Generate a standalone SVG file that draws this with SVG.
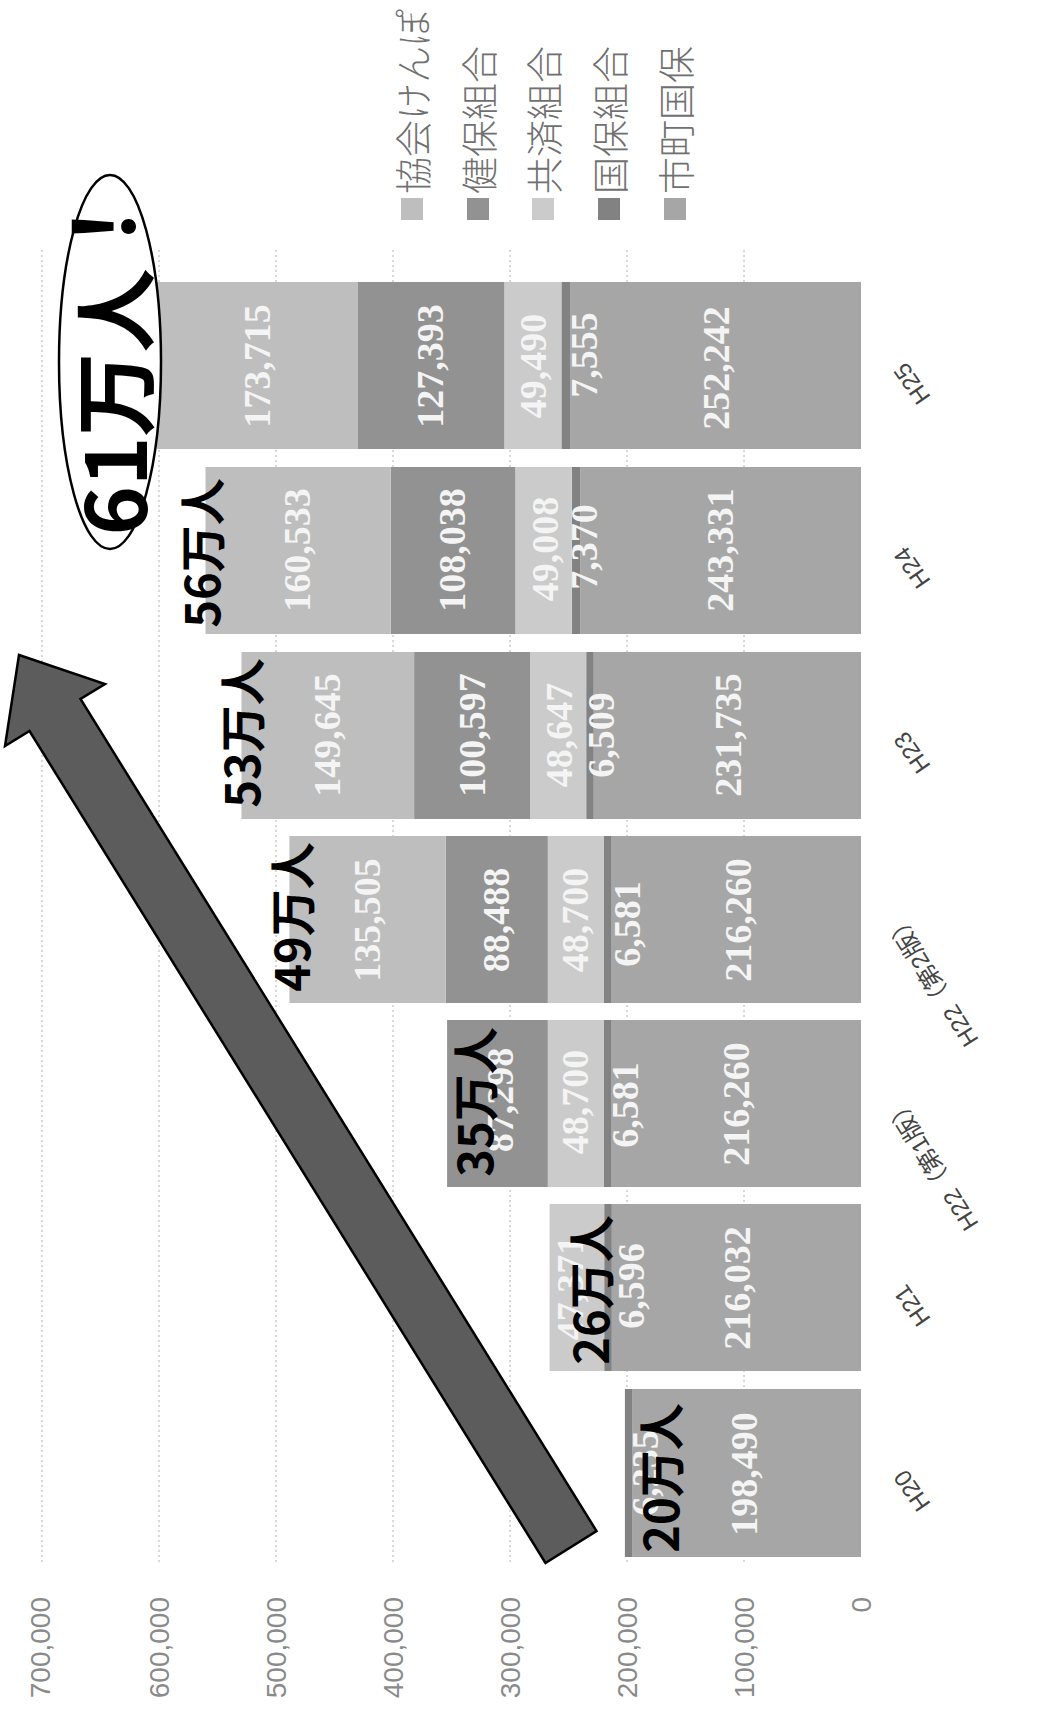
<svg xmlns="http://www.w3.org/2000/svg" width="1054" height="1725" viewBox="0 0 1054 1725">
<style>
.k{fill:#bebebe}.kn{fill:#929292}.ky{fill:#cbcbcb}.kk{fill:#828282}.sc{fill:#a6a6a6}
.dl{font-family:"Liberation Serif",serif;font-size:38px;font-weight:bold;fill:#f4f4f4;text-anchor:middle;dominant-baseline:central}
.tot{font-family:"Noto Sans CJK JP",sans-serif;font-size:47px;font-weight:bold;fill:#000;text-anchor:middle;dominant-baseline:central}
.ax{font-family:"Liberation Sans",sans-serif;font-size:28px;fill:#8a8a8a;text-anchor:end;dominant-baseline:central}
.cat{font-family:"Liberation Sans","Noto Sans CJK JP",sans-serif;font-size:24px;fill:#444;text-anchor:end}
.lg{font-family:"Noto Sans CJK JP",sans-serif;font-size:37px;font-weight:300;fill:#707070;text-anchor:start;dominant-baseline:central}
.grid{stroke:#b0b0b0;stroke-width:1;stroke-dasharray:2 3}
</style>
<rect width="1054" height="1725" fill="#fff"/>
<g id="gridlines">
<line class="grid" x1="42" y1="250" x2="42" y2="1565"/>
<line class="grid" x1="159" y1="250" x2="159" y2="1565"/>
<line class="grid" x1="276" y1="250" x2="276" y2="1565"/>
<line class="grid" x1="393" y1="250" x2="393" y2="1565"/>
<line class="grid" x1="510" y1="250" x2="510" y2="1565"/>
<line class="grid" x1="627" y1="250" x2="627" y2="1565"/>
<line class="grid" x1="744" y1="250" x2="744" y2="1565"/>
</g>
<g id="bar-H25">
<rect class="sc" x="570.1" y="282" width="290.9" height="167"/>
<rect class="kk" x="561.4" y="282" width="8.7" height="167"/>
<rect class="ky" x="504.3" y="282" width="57.1" height="167"/>
<rect class="kn" x="357.4" y="282" width="146.9" height="167"/>
<rect class="k" x="157" y="282" width="200.4" height="167"/>
<text class="dl" transform="translate(257,366) rotate(-90)">173,715</text>
<text class="dl" transform="translate(430,366) rotate(-90)">127,393</text>
<text class="dl" transform="translate(533,366) rotate(-90)">49,490</text>
<text class="dl" transform="translate(584,355) rotate(-90)">7,555</text>
<text class="dl" transform="translate(716,368) rotate(-90)">252,242</text>
</g>
<g id="bar-H24">
<rect class="sc" x="580.3" y="467" width="280.7" height="167"/>
<rect class="kk" x="571.8" y="467" width="8.5" height="167"/>
<rect class="ky" x="515.3" y="467" width="56.5" height="167"/>
<rect class="kn" x="390.7" y="467" width="124.6" height="167"/>
<rect class="k" x="205.5" y="467" width="185.2" height="167"/>
<text class="dl" transform="translate(297,550) rotate(-90)">160,533</text>
<text class="dl" transform="translate(452,550) rotate(-90)">108,038</text>
<text class="dl" transform="translate(545,549) rotate(-90)">49,008</text>
<text class="dl" transform="translate(584,547) rotate(-90)">7,370</text>
<text class="dl" transform="translate(720,550) rotate(-90)">243,331</text>
</g>
<g id="bar-H23">
<rect class="sc" x="593.7" y="652" width="267.3" height="167"/>
<rect class="kk" x="586.2" y="652" width="7.5" height="167"/>
<rect class="ky" x="530.1" y="652" width="56.1" height="167"/>
<rect class="kn" x="414.1" y="652" width="116" height="167"/>
<rect class="k" x="241.5" y="652" width="172.6" height="167"/>
<text class="dl" transform="translate(327,735) rotate(-90)">149,645</text>
<text class="dl" transform="translate(472,735) rotate(-90)">100,597</text>
<text class="dl" transform="translate(559,735) rotate(-90)">48,647</text>
<text class="dl" transform="translate(601,735) rotate(-90)">6,509</text>
<text class="dl" transform="translate(728,735) rotate(-90)">231,735</text>
</g>
<g id="bar-H22-2">
<rect class="sc" x="611.6" y="836" width="249.4" height="167"/>
<rect class="kk" x="604" y="836" width="7.6" height="167"/>
<rect class="ky" x="547.8" y="836" width="56.2" height="167"/>
<rect class="kn" x="445.7" y="836" width="102.1" height="167"/>
<rect class="k" x="289.4" y="836" width="156.3" height="167"/>
<text class="dl" transform="translate(367,920) rotate(-90)">135,505</text>
<text class="dl" transform="translate(496,920) rotate(-90)">88,488</text>
<text class="dl" transform="translate(575,920) rotate(-90)">48,700</text>
<text class="dl" transform="translate(627,924) rotate(-90)">6,581</text>
<text class="dl" transform="translate(738,920) rotate(-90)">216,260</text>
</g>
<g id="bar-H22-1">
<rect class="sc" x="611.6" y="1020" width="249.4" height="167"/>
<rect class="kk" x="604" y="1020" width="7.6" height="167"/>
<rect class="ky" x="547.8" y="1020" width="56.2" height="167"/>
<rect class="kn" x="447.1" y="1020" width="100.7" height="167"/>
<text class="dl" transform="translate(500,1100) rotate(-90)">87,298</text>
<text class="dl" transform="translate(575,1102) rotate(-90)">48,700</text>
<text class="dl" transform="translate(625,1105) rotate(-90)">6,581</text>
<text class="dl" transform="translate(736,1104) rotate(-90)">216,260</text>
</g>
<g id="bar-H21">
<rect class="sc" x="611.8" y="1204" width="249.2" height="167"/>
<rect class="kk" x="604.2" y="1204" width="7.6" height="167"/>
<rect class="ky" x="549.6" y="1204" width="54.6" height="167"/>
<text class="dl" transform="translate(570,1288) rotate(-90)">47,371</text>
<text class="dl" transform="translate(631,1286) rotate(-90)">6,596</text>
<text class="dl" transform="translate(737,1288) rotate(-90)">216,032</text>
</g>
<g id="bar-H20">
<rect class="sc" x="632.1" y="1389" width="228.9" height="168"/>
<rect class="kk" x="624.9" y="1389" width="7.2" height="168"/>
<text class="dl" transform="translate(645,1473) rotate(-90)">6,235</text>
<text class="dl" transform="translate(744,1474) rotate(-90)">198,490</text>
</g>
<g id="connectors">
<polygon id="arrow" points="545.5,1563 596.5,1531 80.5,699 105,684 19,655 5,746 29.5,731" fill="#5c5c5c" stroke="#000" stroke-width="2.5" stroke-linejoin="miter"/>
</g>
<g id="totals">
<text class="tot" transform="translate(658,1478) rotate(-90)">20万人</text>
<text class="tot" transform="translate(588,1290) rotate(-90)">26万人</text>
<text class="tot" transform="translate(472,1102) rotate(-90)">35万人</text>
<text class="tot" transform="translate(289,917) rotate(-90)">49万人</text>
<text class="tot" transform="translate(239,733) rotate(-90)">53万人</text>
<text class="tot" transform="translate(199,553) rotate(-90)">56万人</text>
</g>
<g id="callout">
<ellipse cx="110" cy="362" rx="51" ry="187" fill="#fff" stroke="#000" stroke-width="2.5"/>
<text transform="translate(110,360) rotate(-90)" font-family="'Noto Sans CJK JP',sans-serif" font-size="84" font-weight="bold" fill="#000" text-anchor="middle" dominant-baseline="central">61万人<tspan dy="-12">！</tspan></text>
</g>
<g id="categories">
<text class="cat" transform="translate(906,361) rotate(-125)">H25</text>
<text class="cat" transform="translate(906,545) rotate(-125)">H24</text>
<text class="cat" transform="translate(906,730) rotate(-125)">H23</text>
<text class="cat" transform="translate(898,910) rotate(-122)">H22（第2版）</text>
<text class="cat" transform="translate(898,1094) rotate(-122)">H22（第1版）</text>
<text class="cat" transform="translate(906,1283) rotate(-125)">H21</text>
<text class="cat" transform="translate(906,1468) rotate(-125)">H20</text>
</g>
<g id="value-axis">
<text class="ax" transform="translate(40,1597) rotate(-90)">700,000</text>
<text class="ax" transform="translate(159,1597) rotate(-90)">600,000</text>
<text class="ax" transform="translate(276,1597) rotate(-90)">500,000</text>
<text class="ax" transform="translate(393,1597) rotate(-90)">400,000</text>
<text class="ax" transform="translate(510,1597) rotate(-90)">300,000</text>
<text class="ax" transform="translate(627,1597) rotate(-90)">200,000</text>
<text class="ax" transform="translate(744,1597) rotate(-90)">100,000</text>
<text class="ax" transform="translate(861,1597) rotate(-90)">0</text>
</g>
<g id="legend">
<rect class="k" x="401" y="198" width="22" height="22"/>
<text class="lg" transform="translate(412,194) rotate(-90)">協会けんぽ</text>
<rect class="kn" x="467" y="198" width="22" height="22"/>
<text class="lg" transform="translate(478,194) rotate(-90)">健保組合</text>
<rect class="ky" x="532" y="198" width="22" height="22"/>
<text class="lg" transform="translate(543,194) rotate(-90)">共済組合</text>
<rect class="kk" x="598" y="198" width="22" height="22"/>
<text class="lg" transform="translate(609,194) rotate(-90)">国保組合</text>
<rect class="sc" x="664" y="198" width="22" height="22"/>
<text class="lg" transform="translate(675,194) rotate(-90)">市町国保</text>
</g>
</svg>
